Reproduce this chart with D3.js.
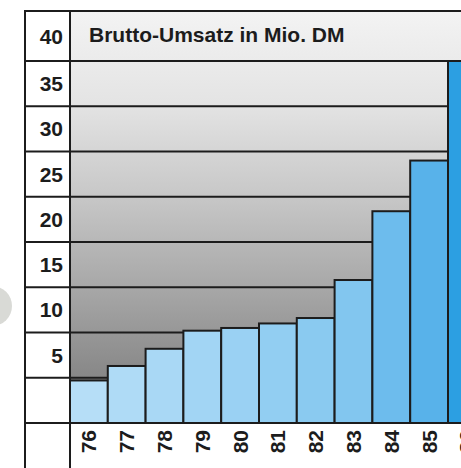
<!DOCTYPE html>
<html>
<head>
<meta charset="utf-8">
<script src="https://cdnjs.cloudflare.com/ajax/libs/d3/7.8.5/d3.min.js"></script>
<style>
  html, body { margin: 0; padding: 0; background: #fff; }
  svg { display: block; }
  text { font-family: "Liberation Sans", Arial, sans-serif; font-weight: bold; fill: #1c1c1c; }
</style>
</head>
<body>
<svg id="chart" width="461" height="468"></svg>
<script>
// Brutto-Umsatz in Mio. DM, 1976-1986
var years = ['76', '77', '78', '79', '80', '81', '82', '83', '84', '85', '86'];
var umsatz = [4.7, 6.3, 8.2, 10.2, 10.5, 11.0, 11.6, 15.8, 23.4, 29.0, 40];
var yTicks = [5, 10, 15, 20, 25, 30, 35, 40];
var title = 'Brutto-Umsatz in Mio. DM';

;(function() {
  var svg = d3.select('#chart');
  var ink = '#1c1c1c';

  var left = 25, axisX = 70, top = 11, bottom = 423, right = 461;
  var bandW = 37.8;

  var x = d3.scaleBand()
    .domain(years)
    .range([axisX, axisX + bandW * years.length])
    .paddingInner(0)
    .paddingOuter(0);

  var y = d3.scaleLinear()
    .domain([0, 40])
    .range([bottom, 61]);

  var blue = d3.scaleLinear()
    .domain([0, 3, 7, 9, 10])
    .range(['#b6def7', '#a2d5f4', '#82c6ef', '#58b2ea', '#2c9fe2'])
    .interpolate(d3.interpolateRgb);

  var defs = svg.append('defs');
  var grad = defs.append('linearGradient')
    .attr('id', 'grey')
    .attr('gradientUnits', 'userSpaceOnUse')
    .attr('x1', 0).attr('y1', top)
    .attr('x2', 0).attr('y2', y(5));
  grad.append('stop').attr('offset', '0%').attr('stop-color', '#f3f3f3');
  grad.append('stop').attr('offset', '25%').attr('stop-color', '#e4e4e4');
  grad.append('stop').attr('offset', '50%').attr('stop-color', '#c8c8c8');
  grad.append('stop').attr('offset', '75%').attr('stop-color', '#a8a8a8');
  grad.append('stop').attr('offset', '100%').attr('stop-color', '#878787');

  // punched hole shadow at the left edge
  svg.append('circle')
    .attr('cx', -8)
    .attr('cy', 306)
    .attr('r', 20)
    .attr('fill', '#d9dad6');

  // grey plot background
  svg.append('rect')
    .attr('x', axisX)
    .attr('y', top)
    .attr('width', right - axisX)
    .attr('height', bottom - top)
    .attr('fill', 'url(#grey)');

  // grid lines across the label column and the plot
  svg.append('g')
    .selectAll('line')
    .data([0].concat(yTicks))
    .enter()
    .append('line')
    .attr('x1', left)
    .attr('x2', right)
    .attr('y1', function(d) { return y(d); })
    .attr('y2', function(d) { return y(d); })
    .attr('stroke', ink)
    .attr('stroke-width', 2);

  // bars
  svg.append('g')
    .selectAll('rect')
    .data(umsatz)
    .enter()
    .append('rect')
    .attr('x', function(d, i) { return x(years[i]); })
    .attr('y', function(d) { return y(d); })
    .attr('width', x.bandwidth())
    .attr('height', function(d) { return bottom - y(d); })
    .attr('fill', function(d, i) { return blue(i); })
    .attr('stroke', ink)
    .attr('stroke-width', 2);

  // value labels in the left column, sitting above their line
  svg.append('g')
    .selectAll('text')
    .data(yTicks)
    .enter()
    .append('text')
    .attr('x', 63)
    .attr('y', function(d) {
      var upper = d === 40 ? top : y(d + 5);
      return (upper + y(d)) / 2 + 7.5;
    })
    .attr('text-anchor', 'end')
    .attr('font-size', 21)
    .text(function(d) { return d; });

  // title
  svg.append('text')
    .attr('x', 89)
    .attr('y', 42)
    .attr('font-size', 21)
    .text(title);

  // year labels, rotated
  svg.append('g')
    .selectAll('text')
    .data(years)
    .enter()
    .append('text')
    .attr('transform', function(d) {
      return 'translate(' + (x(d) + x.bandwidth() / 2 + 7.5) + ',' + 430 + ') rotate(-90)';
    })
    .attr('text-anchor', 'end')
    .attr('font-size', 21)
    .text(function(d) { return d; });

  // frame: outer border, column divider, top edge
  svg.append('line')
    .attr('x1', left).attr('x2', left)
    .attr('y1', top - 1).attr('y2', 468)
    .attr('stroke', ink).attr('stroke-width', 2);

  svg.append('line')
    .attr('x1', axisX).attr('x2', axisX)
    .attr('y1', top).attr('y2', 468)
    .attr('stroke', ink).attr('stroke-width', 2);

  svg.append('line')
    .attr('x1', left).attr('x2', right)
    .attr('y1', top).attr('y2', top)
    .attr('stroke', ink).attr('stroke-width', 2);
})();
</script>
</body>
</html>
